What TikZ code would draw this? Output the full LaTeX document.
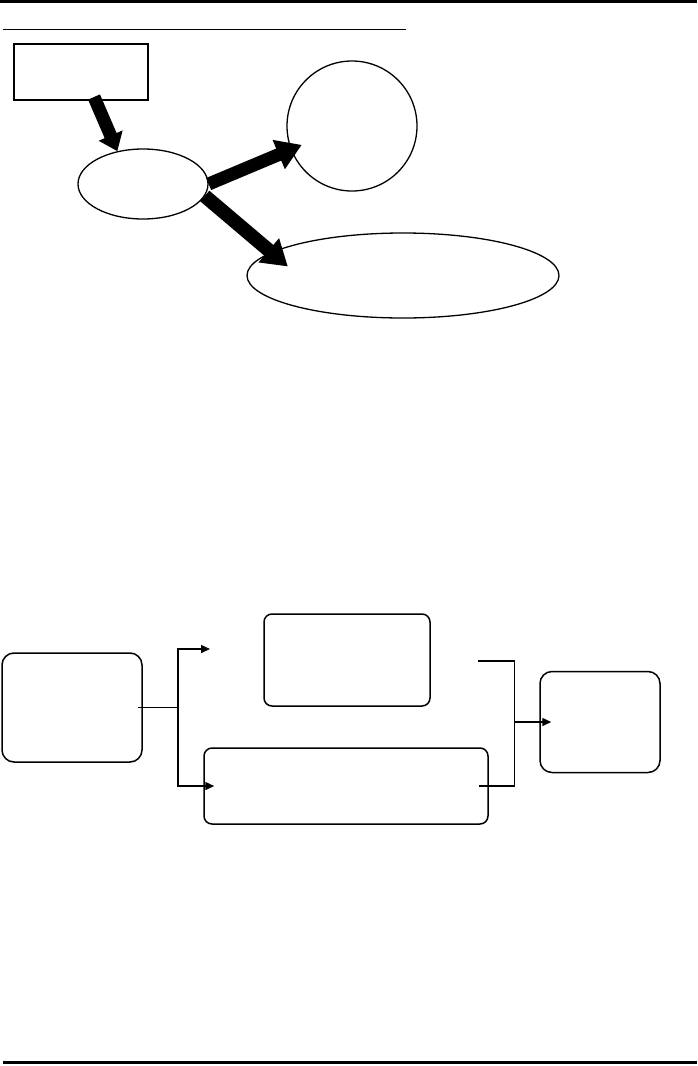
\documentclass[tikz,border=0pt]{standalone}
\usetikzlibrary{arrows.meta, shapes.geometric, calc}

\tikzset{
    fatarrow/.style={line width=13pt, -{Triangle[length=25pt, width=30pt]}},
    link/.style={line width=1.5pt},
    linktip/.style={link, -{Triangle[length=9pt, width=8pt]}},
    roundbox/.style={draw, line width=1.5pt, inner sep=0pt, rounded corners=#1},
    roundbox/.default=10pt,
    oval/.style={ellipse, draw, line width=1.3pt, inner sep=0pt},
}

\begin{document}
\begin{tikzpicture}[x=1pt, y=-1pt]
    \useasboundingbox (0,0) rectangle (697,1066);

    % page rules
    \draw[line width=3pt] (0,1.5) -- (697,1.5);
    \draw[line width=1pt] (3,29) -- (406,29);
    \draw[line width=3pt] (3,1062.5) -- (697,1062.5);

    % upper diagram
    \node[draw, line width=2pt, inner sep=0pt,
        minimum width=134pt, minimum height=56pt] (start) at (81,72) {};
    \node[oval, minimum width=130pt, minimum height=70pt] (hub) at (143,184) {};
    \node[circle, draw, line width=1.3pt, inner sep=0pt,
        minimum size=130pt] (round) at (352,126) {};
    \node[oval, minimum width=312pt, minimum height=85pt] (goal) at (403,275.5) {};

    \draw[fatarrow, -{Triangle[length=17pt, width=25pt]}]
        ([xshift=13pt, yshift=4pt]start.south) -- (hub.128);
    \draw[fatarrow, shorten >=-12pt] (hub.east) -- (round.201);
    \draw[fatarrow, line width=14pt, shorten >=-22pt] (hub.-11) -- (goal.170);

    % lower diagram
    \node[roundbox=12pt, minimum width=140pt, minimum height=109pt] (srcbox) at (72,707.5) {};
    \node[roundbox=8pt, minimum width=166pt, minimum height=92pt] (topbox) at (347,660) {};
    \node[roundbox=8pt, minimum width=284pt, minimum height=76pt] (lowbox) at (346,786) {};
    \node[roundbox=12pt, minimum width=120pt, minimum height=101pt] (sinkbox) at (600,722) {};

    \coordinate (fork) at ($(srcbox.east)+(35,0)$);
    \coordinate (topin) at (210,649);
    \coordinate (topout) at (478,661);
    \coordinate (join) at ($(sinkbox.west)+(-25,0)$);

    \draw[link] ([xshift=-5pt]srcbox.east) -- (fork);
    \draw[linktip] (fork) |- (topin);
    \draw[linktip] (fork) |- ([xshift=11pt]lowbox.west);

    \draw[link] (topout) -| (join);
    \draw[link] ([xshift=-10pt]lowbox.east) -| (join);
    \draw[linktip] (join) -- ([xshift=12pt]sinkbox.west);
\end{tikzpicture}
\end{document}
